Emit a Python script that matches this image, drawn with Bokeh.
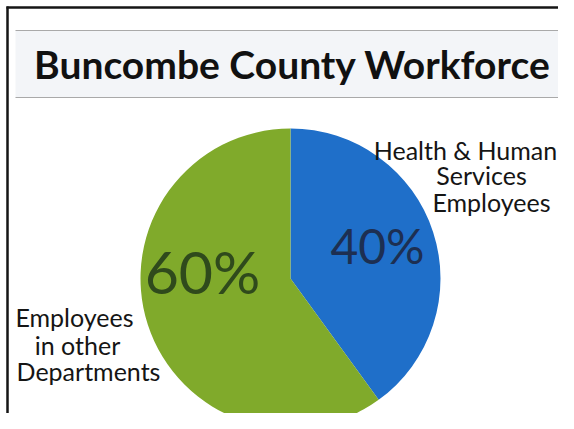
import numpy as np
from bokeh.plotting import figure
from bokeh.models import Range1d
from bokeh.core.properties import value
from bokeh.embed import file_html
from bokeh.resources import INLINE

# ---- data ----
title_text = "Buncombe County Workforce"
categories = ["Health & Human Services Employees", "Employees in other Departments"]
shares = [40, 60]
pct_labels = ["40%", "60%"]
hhs_lines = ["Health & Human", "Services", "Employees"]
other_lines = ["Employees", "in other", "Departments"]
slice_colors = ["#1f6fc9", "#80aa2b"]
pct_colors = ["#1d2f52", "#2f4a1c"]

W, H = 558, 413
FONT = "Lato"


def sy(v):
    # convert a y measured from the top of the picture to data y
    return 429 - v


p = figure(width=W, height=H, x_range=Range1d(0, 558), y_range=Range1d(16, 429),
           output_backend="svg", toolbar_location=None, min_border=0)
p.axis.visible = False
p.grid.visible = False
p.outline_line_color = None
p.background_fill_color = "white"
p.border_fill_color = "white"

# title band
p.quad(left=[15], right=[566], top=[sy(30)], bottom=[sy(97)],
       fill_color="#f3f5f8", line_color=None)
p.segment(x0=[15, 15], y0=[sy(30), sy(97)], x1=[566, 566], y1=[sy(30), sy(97)],
          line_color="#a9a9a9", line_width=1)

# frame lines of the scanned slide
p.segment(x0=[7], y0=[sy(6)], x1=[7], y1=[sy(429)], line_color="#151515", line_width=2.5)
p.segment(x0=[6], y0=[sy(7)], x1=[558], y1=[sy(7)], line_color="#151515", line_width=2.5)

# title
p.text(x=[292], y=[sy(63)], text=[title_text], text_font=value(FONT),
       text_font_style="bold", text_font_size="39px", text_color="#111111",
       text_align="center", text_baseline="middle")

# pie
cx, cy, r = 290, sy(278), 150
frac = np.array(shares, dtype=float) / sum(shares)
cum = np.cumsum(frac)
start = np.pi / 2 - 2 * np.pi * (cum - frac)
end = np.pi / 2 - 2 * np.pi * cum
p.wedge(x=[cx] * len(shares), y=[cy] * len(shares), radius=r,
        start_angle=list(start), end_angle=list(end), direction="clock",
        fill_color=slice_colors, line_color=None)

# percentage labels
p.text(x=[377], y=[sy(245)], text=[pct_labels[0]], text_font=value(FONT),
       text_font_size="48px", text_color=pct_colors[0],
       text_align="center", text_baseline="middle")
p.text(x=[202], y=[sy(271)], text=[pct_labels[1]], text_font=value(FONT),
       text_font_size="59px", text_color=pct_colors[1],
       text_align="center", text_baseline="middle")

# category labels
p.text(x=[465, 481, 491], y=[sy(149), sy(174), sy(201)], text=hhs_lines,
       text_font=value(FONT), text_font_size="25px", text_color="#151515",
       text_align="center", text_baseline="middle")
p.text(x=[74, 77, 88], y=[sy(316), sy(344), sy(370)], text=other_lines,
       text_font=value(FONT), text_font_size="25px", text_color="#151515",
       text_align="center", text_baseline="middle")

open("out.html", "w").write(file_html(p, INLINE))
